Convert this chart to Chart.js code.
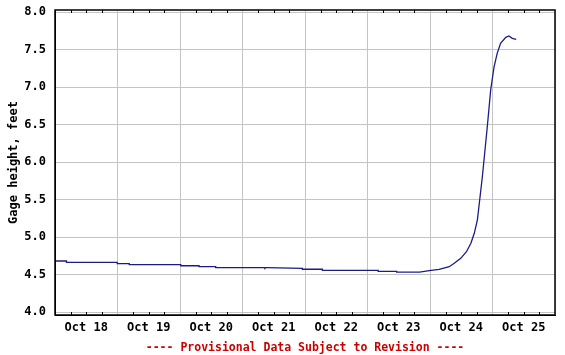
<!DOCTYPE html>
<html>
<head>
<meta charset="utf-8">
<script src="https://cdn.jsdelivr.net/npm/chart.js@4"></script>
<style>
  body { margin: 0; background: #fff; }
</style>
</head>
<body>
<canvas id="gage" width="565" height="355"></canvas>
<script>
// hours since Oct 18 00:00
const hours = [0, 4.4, 4.4, 23.9, 23.9, 28.5, 28.5, 48.3, 48.3, 55.3, 55.3, 61.7, 61.7, 80.3, 80.6, 80.8, 81.2,
    95, 95, 102.7, 102.7, 124.1, 124.1, 131.2, 131.2, 140, 143.7, 147.5, 151.4, 153.3, 155.8, 158, 159.7,
    161, 162.2, 164.1, 166.0, 167.3, 168.6, 169.8, 171.1, 173.1, 174.3, 175.6, 177.1];
const gageFt = [4.68, 4.68, 4.663, 4.663, 4.644, 4.644, 4.631, 4.631, 4.617, 4.617, 4.604, 4.604, 4.593, 4.593, 4.585, 4.593, 4.593,
    4.583, 4.57, 4.57, 4.556, 4.556, 4.543, 4.543, 4.533, 4.533, 4.551, 4.569, 4.604, 4.649, 4.716, 4.804, 4.916,
    5.049, 5.227, 5.804, 6.471, 6.96, 7.27, 7.449, 7.583, 7.663, 7.68, 7.649, 7.636];
const dayLabels = ['Oct 18', 'Oct 19', 'Oct 20', 'Oct 21', 'Oct 22', 'Oct 23', 'Oct 24', 'Oct 25'];
const yTicks = [4.0, 4.5, 5.0, 5.5, 6.0, 6.5, 7.0, 7.5, 8.0];

const fontMono = 'DejaVu Sans Mono';
const gridGrey = '#c4c4c4';

// frame around the plot + small 6-hour ticks at top and bottom
const framePlugin = {
    id: 'frame',
    afterDraw(chart)
    {
        const a = chart.chartArea;
        const xs = chart.scales.x;
        const ctx = chart.ctx;
        ctx.save();
        ctx.strokeStyle = '#000';
        ctx.lineWidth = 1;
        ctx.beginPath();
        for (let h = 6; h < 192; h += 6)
        {
            if (h % 24 === 0) continue;
            const px = Math.round(xs.getPixelForValue(h)) + 0.5;
            ctx.moveTo(px, a.top);
            ctx.lineTo(px, a.top + 3);
            ctx.moveTo(px, a.bottom);
            ctx.lineTo(px, a.bottom - 3);
        }
        ctx.stroke();
        ctx.lineWidth = 1.5;
        ctx.strokeRect(a.left, a.top, a.right - a.left, a.bottom - a.top);
        ctx.restore();
    }
};

new Chart(document.getElementById('gage'), {
    type: 'line',
    data: {
        datasets: [{
            data: hours.map((h, i) => ({ x: h, y: gageFt[i] })),
            borderColor: '#1c1c86',
            borderWidth: 1.3,
            pointRadius: 0,
            tension: 0,
            fill: false
        }]
    },
    options: {
        responsive: false,
        animation: false,
        events: [],
        layout: { padding: { top: 10, right: 10, left: 0, bottom: 0 } },
        plugins: {
            legend: { display: false },
            tooltip: { enabled: false }
        },
        scales: {
            x: {
                type: 'linear',
                min: 0,
                max: 192,
                afterBuildTicks: (s) => {
                    const t = [];
                    for (let h = 0; h <= 192; h += 12) t.push({ value: h });
                    s.ticks = t;
                },
                afterFit: (s) => { s.height = 40; s.paddingLeft = 0; s.paddingRight = 0; },
                grid: {
                    drawTicks: false,
                    color: (c) => (c.tick && c.tick.value % 24 === 0) ? gridGrey : 'rgba(0,0,0,0)'
                },
                border: { color: '#000' },
                ticks: {
                    autoSkip: false,
                    maxRotation: 0,
                    padding: 6,
                    color: '#000',
                    font: { family: fontMono, size: 12, weight: 'bold' },
                    callback: (v) => (v % 24 === 12) ? dayLabels[(v - 12) / 24] : ''
                },
                title: {
                    display: true,
                    text: '---- Provisional Data Subject to Revision ----',
                    color: '#cc0000',
                    font: { family: fontMono, size: 11.5, weight: 'bold' },
                    padding: { top: 0, bottom: 0 }
                }
            },
            y: {
                min: 3.96,
                max: 8.027,
                afterBuildTicks: (s) => { s.ticks = yTicks.map((v) => ({ value: v })); },
                afterFit: (s) => { s.width = 55; s.paddingTop = 0; s.paddingBottom = 0; },
                grid: { drawTicks: false, color: gridGrey },
                border: { color: '#000' },
                ticks: {
                    padding: 9,
                    color: '#000',
                    font: { family: fontMono, size: 12, weight: 'bold' },
                    callback: (v) => v.toFixed(1)
                },
                title: {
                    display: true,
                    text: 'Gage height, feet',
                    color: '#000',
                    font: { family: fontMono, size: 12, weight: 'bold' },
                    padding: { top: 7, bottom: 0 }
                }
            }
        }
    },
    plugins: [framePlugin]
});
</script>
</body>
</html>
